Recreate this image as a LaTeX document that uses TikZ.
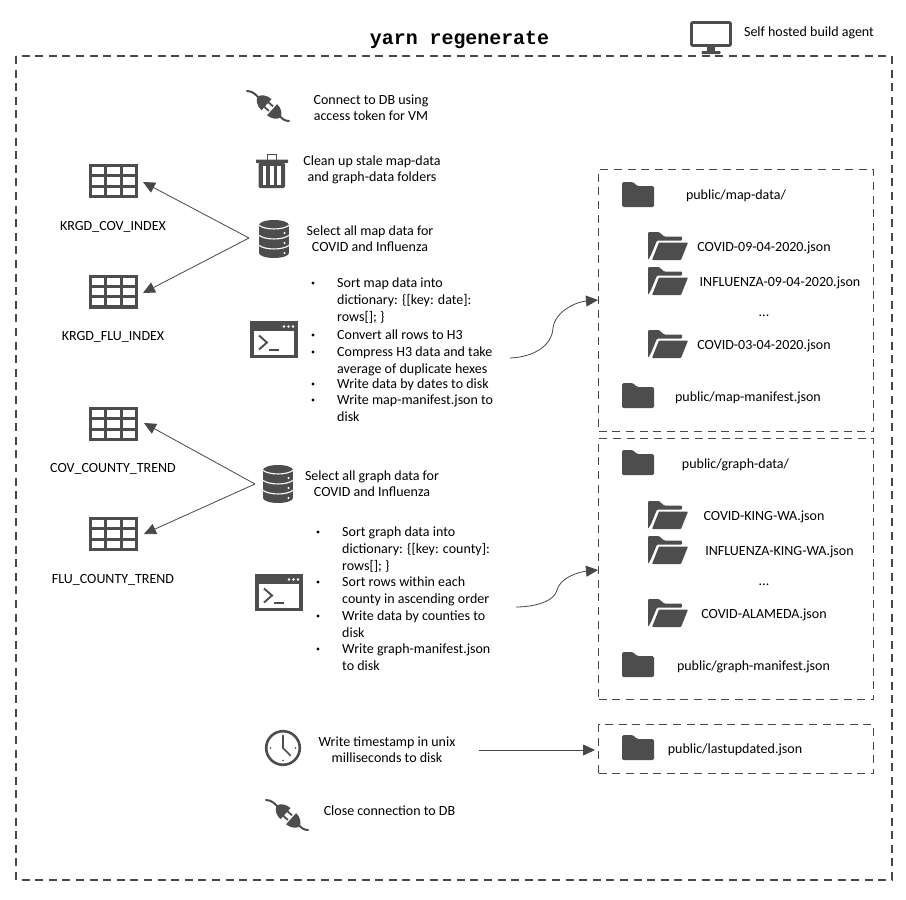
\documentclass[tikz,border=0pt]{standalone}
\usepackage{fontspec}
\setmainfont{Carlito}
\newfontfamily\titlefont{Liberation Mono}[BoldFont={Liberation Mono Bold}]
\usetikzlibrary{arrows.meta}
\definecolor{ic}{HTML}{4D4D4D}
\definecolor{ln}{HTML}{484848}
\tikzset{
  x=1pt,y=-1pt,
  lbl/.style={font=\fontsize{14}{16}\selectfont,align=center,text=black,inner sep=0},
  itemtxt/.style={font=\fontsize{14}{16.2}\selectfont,align=left,text=black,inner sep=0,anchor=north west},
  itemtxtb/.style={font=\fontsize{14}{16.8}\selectfont,align=left,text=black,inner sep=0,anchor=north west},
  itemtxtc/.style={font=\fontsize{14}{17}\selectfont,align=left,text=black,inner sep=0,anchor=north west},
  dashbox/.style={draw=ln,line width=1.4pt,dash pattern=on 8pt off 5.6pt},
  conn/.style={draw=ln,line width=0.8pt},
  arr/.style={conn,-{Triangle[length=12pt,width=11pt]}},
  tablepic/.pic={
    \fill[ic] (-24.5,-17) rectangle (24.5,17);
    \foreach \cx in {-15.5,0,15.5}\foreach \cy in {-10.3,0,10.3}
      \fill[white] (\cx-6.3,\cy-3.6) rectangle (\cx+6.3,\cy+3.6);
  },
  foldera/.pic={
    \fill[ic,rounded corners=1.5pt] (-16,-13) -- (-5,-13) -- (-1,-9) -- (16,-9) -- (16,12) -- (-16,12) -- cycle;
  },
  folderb/.pic={
    \fill[ic,rounded corners=1pt] (-20,-14) -- (-9,-14) -- (-4,-9.5) -- (14,-9.5) -- (14,-5.5) -- (-11,-5.5) -- (-17,9) -- (-20,14) -- cycle;
    \fill[ic,rounded corners=0.8pt] (-9,-3.5) -- (20,-3.5) -- (13,14) -- (-16,14) -- cycle;
  },
  termpic/.pic={
    \fill[ic] (-24,-18.5) rectangle (24,18.5);
    \fill[white] (-20,-9) rectangle (20,15);
    \foreach \cx in {11,15.5,20}\fill[white] (\cx-1,-13) circle (1.4);
    \draw[ic,line width=1.9pt] (-15,-4) -- (-7,3) -- (-15,10);
    \draw[ic,line width=1.9pt] (-5,10.5) -- (5,10.5);
  },
  dbpic/.pic={
    \fill[ic] (-15,-14) rectangle (15,14);
    \fill[ic] (0,-14) ellipse [x radius=15,y radius=5];
    \fill[ic] (0,14) ellipse [x radius=15,y radius=5];
    \foreach \oy in {-14,-4,6}
      \draw[white,line width=1.1pt] (-15.5,\oy) .. controls (-9,\oy+5.3) and (9,\oy+5.3) .. (15.5,\oy);
    \foreach \oy in {-6,4,14}\fill[white] (10.5,\oy) circle (1.2);
  },
  trashpic/.pic={
    \draw[ic,line width=1.6pt] (-4.5,-11) -- (-4.5,-16.5) -- (4.5,-16.5) -- (4.5,-11);
    \fill[ic,rounded corners=0.6pt] (-16,-11.5) rectangle (16,-8);
    \fill[ic,rounded corners=1.5pt] (-13.5,-8.5) rectangle (13,17);
    \foreach \cx in {-7.5,0,7}\fill[white] (\cx-1.6,-5) rectangle (\cx+1.6,14);
  },
  plugpic/.pic={
    \draw[ic,line width=2pt,line cap=round] (-21,-15) .. controls (-15,-15) and (-12,-11) .. (-8,-7);
    \draw[ic,line width=2pt,line cap=round] (11,9) .. controls (14,13) and (17,15) .. (21,15);
    \begin{scope}[rotate=-42]
      \fill[ic] (-2,-7.5) -- (-2,7.5) .. controls (-8,7.5) and (-13,4) .. (-14,0) .. controls (-13,-4) and (-8,-7.5) .. (-2,-7.5) -- cycle;
      \fill[ic] (-2.5,-4) rectangle (4,-2.2);
      \fill[ic] (-2.5,2.2) rectangle (4,4);
      \fill[ic] (5.5,-7.5) -- (5.5,7.5) .. controls (11,7.5) and (16,4) .. (17,0) .. controls (16,-4) and (11,-7.5) .. (5.5,-7.5) -- cycle;
    \end{scope}
  },
  clockpic/.pic={
    \draw[ic,line width=2.6pt] (0,0) circle (16.8);
    \foreach \a in {0,90,180,270}\fill[ic] (\a:12.5) circle (0.9);
    \draw[ic,line width=1.6pt,line cap=round] (0,-12) -- (0,0) -- (7.5,7.5);
  },
  monitorpic/.pic={
    \draw[ic,line width=2.8pt,rounded corners=1pt] (-19.5,-11.5) rectangle (19.5,11.5);
    \fill[ic] (-4,12) rectangle (4,18);
    \fill[ic,rounded corners=0.8pt] (-9.5,17) rectangle (9.5,20);
  }
}
\begin{document}
\begin{tikzpicture}
\useasboundingbox (0,0) rectangle (906,900);
\fill[white] (0,0) rectangle (906,900);

% frames
\draw[dashbox] (16,56) rectangle (892,880);
\node[dashbox,minimum width=275pt,minimum height=262pt,inner sep=0,anchor=north west] (mapbox) at (598,169) {};
\node[dashbox,minimum width=275pt,minimum height=261pt,inner sep=0,anchor=north west] (graphbox) at (598,438) {};
\node[dashbox,minimum width=275pt,minimum height=49pt,inner sep=0,anchor=north west] (lastbox) at (598,724) {};

% title
\node[inner sep=0] (title) at (459.5,40) {\titlefont\bfseries\fontsize{19.9}{22}\selectfont yarn regenerate};
\pic at (711,34) {monitorpic};
\node[lbl] (agent) at (809,32.5) {Self hosted build agent};

% middle column icons and texts
\pic at (268,106) {plugpic};
\node[lbl] (t1) at (371,108) {Connect to DB using\\access token for VM};
\pic at (272,171) {trashpic};
\node[lbl] (t2) at (372,170) {Clean up stale map-data\\ and graph-data folders};
\pic at (274,239) {dbpic};
\node[lbl] (t3) at (370,239) {Select all map data for\\COVID and Influenza};
\pic at (274,339.5) {termpic};
\pic at (278,484) {dbpic};
\node[lbl] (t4) at (372,484) {Select all graph data for\\COVID and Influenza};
\pic at (279,592.5) {termpic};
\pic at (283,748) {clockpic};
\node[lbl] (t5) at (387,750) {Write timestamp in unix\\milliseconds to disk};
\pic at (287,815) {plugpic};
\node[lbl] (t6) at (389.5,811) {Close connection to DB};

% bullets, map
\foreach \by in {283,335,352,384,400}\fill[black] (313,\by) circle (1.7);
\node[itemtxtc] (m1) at (337,278) {Sort map data into\\dictionary: \{[key: date]:\\rows[]; \}};
\node[itemtxt] (m2) at (337,330) {Convert all rows to H3};
\node[itemtxt] (m3) at (337,347) {Compress H3 data and take\\average of duplicate hexes};
\node[itemtxt] (m4) at (337,379) {Write data by dates to disk};
\node[itemtxt] (m5) at (337,395) {Write map-manifest.json to\\disk};

% bullets, graph
\foreach \by in {532,582,616,649}\fill[black] (318,\by) circle (1.7);
\node[itemtxtb] (g1) at (342,527) {Sort graph data into\\dictionary: \{[key: county]:\\rows[]; \}};
\node[itemtxtb] (g2) at (342,577) {Sort rows within each\\county in ascending order};
\node[itemtxtb] (g3) at (342,611) {Write data by counties to\\disk};
\node[itemtxtb] (g4) at (342,644) {Write graph-manifest.json\\to disk};

% tables
\pic at (113.5,181) {tablepic};
\node[lbl] (k1) at (113,227) {KRGD\_COV\_INDEX};
\pic at (113.5,291.5) {tablepic};
\node[lbl] (k2) at (113,337) {KRGD\_FLU\_INDEX};
\pic at (113.5,424) {tablepic};
\node[lbl] (k3) at (113,469) {COV\_COUNTY\_TREND};
\pic at (113.5,534) {tablepic};
\node[lbl] (k4) at (113,580) {FLU\_COUNTY\_TREND};

% map box
\pic at (638,195) {foldera};
\node[lbl] (f1) at (736,195.5) {public/map-data/};
\pic at (668,246) {folderb};
\node[lbl] (f2) at (764,247.5) {COVID-09-04-2020.json};
\pic at (668,281) {folderb};
\node[lbl] (f3) at (780,282.5) {INFLUENZA-09-04-2020.json};
\node[lbl] (f4) at (764,316) {...};
\pic at (668,344) {folderb};
\node[lbl] (f5) at (764,345.5) {COVID-03-04-2020.json};
\pic at (638,396) {foldera};
\node[lbl] (f6) at (748,397.5) {public/map-manifest.json};

% graph box
\pic at (638,463) {foldera};
\node[lbl] (h1) at (735.5,464.5) {public/graph-data/};
\pic at (668,515) {folderb};
\node[lbl] (h2) at (764,516.5) {COVID-KING-WA.json};
\pic at (668,550) {folderb};
\node[lbl] (h3) at (779.5,551.5) {INFLUENZA-KING-WA.json};
\node[lbl] (h4) at (764,585) {...};
\pic at (668,613) {folderb};
\node[lbl] (h5) at (764,614.5) {COVID-ALAMEDA.json};
\pic at (638,665) {foldera};
\node[lbl] (h6) at (753.5,666.5) {public/graph-manifest.json};

% last box
\pic at (638,748) {foldera};
\node[lbl] (l1) at (735,749.5) {public/lastupdated.json};

% connector ends
\coordinate (mapsrc) at (249,238);
\coordinate (tabA) at (143,182);
\coordinate (tabB) at (143,293);
\coordinate (graphsrc) at (255,484);
\coordinate (tabC) at (144,423);
\coordinate (tabD) at (144,534);
\coordinate (mapout) at (510,358);
\coordinate (mapmid) at (553,328);
\coordinate (mapin) at (598,300);
\coordinate (graphout) at (516,607);
\coordinate (graphmid) at (557,590);
\coordinate (graphin) at (598,570);
\coordinate (lastout) at (479,750);
\coordinate (lastin) at (595,750);

\draw[arr] (mapsrc) -- (tabA);
\draw[arr] (mapsrc) -- (tabB);
\draw[arr] (graphsrc) -- (tabC);
\draw[arr] (graphsrc) -- (tabD);
\draw[arr] (mapout) .. controls (535,357) and (552,345) .. (mapmid) .. controls (555,312) and (575,302) .. (mapin);
\draw[arr] (graphout) .. controls (535,607) and (555,601) .. (graphmid) .. controls (560,578) and (578,572) .. (graphin);
\draw[arr] (lastout) -- (lastin);
\end{tikzpicture}
\end{document}
